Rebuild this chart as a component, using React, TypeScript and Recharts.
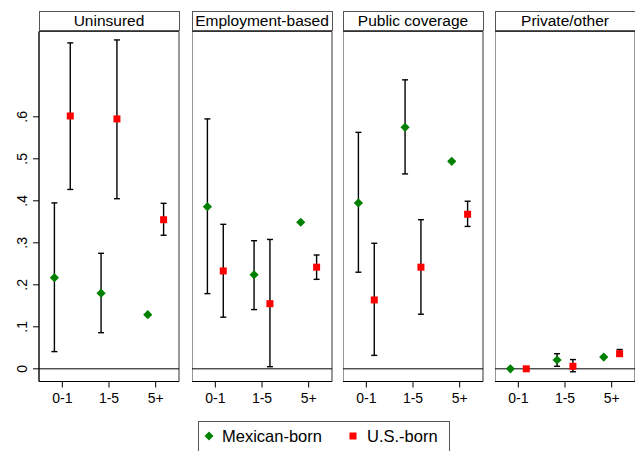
import {
  ComposedChart,
  Scatter,
  ErrorBar,
  XAxis,
  YAxis,
  ReferenceLine,
  ReferenceArea,
} from "recharts";

const ageGroups = ["0-1", "1-5", "5+"];
const panelTitles = ["Uninsured", "Employment-based", "Public coverage", "Private/other"];
const yTicks = [0, 0.1, 0.2, 0.3, 0.4, 0.5, 0.6];

// one row per panel, one value per age group
const mexicanEst = [
  [0.217, 0.18, 0.129],
  [0.386, 0.224, 0.349],
  [0.395, 0.575, 0.494],
  [0.0, 0.021, 0.028],
];
const mexicanLow = [
  [0.041, 0.086, 0.129],
  [0.179, 0.141, 0.349],
  [0.23, 0.464, 0.494],
  [0.0, 0.006, 0.028],
];
const mexicanHigh = [
  [0.395, 0.275, 0.129],
  [0.595, 0.305, 0.349],
  [0.563, 0.688, 0.494],
  [0.0, 0.036, 0.028],
];

const usEst = [
  [0.602, 0.595, 0.355],
  [0.233, 0.155, 0.242],
  [0.164, 0.242, 0.368],
  [0.0, 0.006, 0.036],
];
const usLow = [
  [0.427, 0.405, 0.318],
  [0.123, 0.005, 0.213],
  [0.032, 0.13, 0.339],
  [0.0, -0.007, 0.03],
];
const usHigh = [
  [0.776, 0.783, 0.394],
  [0.344, 0.308, 0.271],
  [0.299, 0.355, 0.399],
  [0.0, 0.022, 0.046],
];

const FONT = '"Liberation Sans", Arial, Helvetica, sans-serif';
const GREEN = "#008000";
const RED = "#ff0000";
const Y_DOMAIN: [number, number] = [-0.0302, 0.8031];
const X_DOMAIN: [number, number] = [0.5, 3.5];
const OFFSET = 0.17;

const plotLefts = [38, 191, 342, 494];
const PLOT_W = 140;
const PLOT_TOP = 31.5;
const PLOT_H = 350;
const XAXIS_H = 38;
const YAXIS_W = 38;

function buildSeries(est: number[], low: number[], high: number[], shift: number) {
  return est.map((v, i) => ({
    pos: i + 1 + shift,
    val: v,
    ci: [v - low[i], high[i] - v],
  }));
}

const Diamond = (p: any) => (
  <polygon
    points={`${p.cx},${p.cy - 4.6} ${p.cx + 4.6},${p.cy} ${p.cx},${p.cy + 4.6} ${p.cx - 4.6},${p.cy}`}
    fill={GREEN}
  />
);

const Square = (p: any) => (
  <rect x={p.cx - 3.5} y={p.cy - 3.5} width={7} height={7} fill={RED} />
);

function fmtY(v: number) {
  return v === 0 ? "0" : "." + Math.round(v * 10);
}

const YTick = (props: any) => {
  const { x, y, payload } = props;
  const bx = x - 4;
  return (
    <text
      x={bx}
      y={y}
      transform={`rotate(-90, ${bx}, ${y})`}
      textAnchor="middle"
      fontSize={14}
      fontFamily={FONT}
      fill="#000"
    >
      {fmtY(payload.value)}
    </text>
  );
};

function Panel({ idx }: { idx: number }) {
  const withAxis = idx === 0;
  const axisW = withAxis ? YAXIS_W : 0;
  const mex = buildSeries(mexicanEst[idx], mexicanLow[idx], mexicanHigh[idx], -OFFSET);
  const us = buildSeries(usEst[idx], usLow[idx], usHigh[idx], OFFSET);

  return (
    <div
      style={{
        position: "absolute",
        left: plotLefts[idx] - axisW + 0.5,
        top: 0,
      }}
    >
      <ComposedChart
        width={axisW + PLOT_W + 2}
        height={PLOT_TOP + PLOT_H + XAXIS_H}
        margin={{ top: PLOT_TOP, right: 2, bottom: 0, left: 0 }}
      >
        <XAxis
          dataKey="pos"
          type="number"
          domain={X_DOMAIN}
          ticks={[1, 2, 3]}
          tickFormatter={(v: number) => ageGroups[v - 1]}
          allowDataOverflow
          height={XAXIS_H}
          tickSize={6}
          tickMargin={6}
          stroke="#000"
          tick={{ fontSize: 14, fontFamily: FONT, fill: "#000" }}
        />
        <YAxis
          dataKey="val"
          type="number"
          domain={Y_DOMAIN}
          ticks={yTicks}
          allowDataOverflow
          hide={!withAxis}
          width={YAXIS_W}
          tickSize={6}
          tickMargin={2}
          stroke="#000"
          tick={<YTick />}
        />
        <ReferenceArea
          x1={X_DOMAIN[0]}
          x2={X_DOMAIN[1]}
          y1={Y_DOMAIN[0]}
          y2={Y_DOMAIN[1]}
          fill="none"
          stroke="#333"
          strokeWidth={1}
        />
        <ReferenceLine y={0} stroke="#000" strokeWidth={1} />
        <Scatter data={mex} dataKey="val" shape={<Diamond />} isAnimationActive={false}>
          <ErrorBar dataKey="ci" direction="y" width={3} stroke="#000" strokeWidth={1.4} />
        </Scatter>
        <Scatter data={us} dataKey="val" shape={<Square />} isAnimationActive={false}>
          <ErrorBar dataKey="ci" direction="y" width={3} stroke="#000" strokeWidth={1.4} />
        </Scatter>
      </ComposedChart>
      <div
        style={{
          position: "absolute",
          left: axisW,
          top: 11,
          width: PLOT_W + 1,
          height: 20,
          boxSizing: "border-box",
          border: "1px solid #555",
          background: "#fff",
          textAlign: "center",
          fontFamily: FONT,
          fontSize: 15.5,
          lineHeight: "15px",
          paddingTop: 1,
          whiteSpace: "nowrap",
          overflow: "hidden",
        }}
      >
        {panelTitles[idx]}
      </div>
    </div>
  );
}

export default function App() {
  return (
    <div
      style={{
        position: "absolute",
        left: 0,
        top: 0,
        width: 635,
        height: 451,
        overflow: "hidden",
        background: "#fff",
      }}
    >
      {panelTitles.map((_, i) => (
        <Panel key={i} idx={i} />
      ))}
      <div
        style={{
          position: "absolute",
          left: 198,
          top: 421,
          width: 252,
          height: 34,
          boxSizing: "border-box",
          border: "1px solid #555",
          fontFamily: FONT,
          fontSize: 16.5,
        }}
      >
        <svg width={12} height={12} style={{ position: "absolute", left: 4, top: 8 }}>
          <polygon points="6,1.5 10.5,6 6,10.5 1.5,6" fill={GREEN} />
        </svg>
        <span style={{ position: "absolute", left: 23, top: 4, lineHeight: "20px" }}>
          Mexican-born
        </span>
        <svg width={12} height={12} style={{ position: "absolute", left: 148, top: 8 }}>
          <rect x={2.5} y={2.5} width={7} height={7} fill={RED} />
        </svg>
        <span style={{ position: "absolute", left: 168, top: 4, lineHeight: "20px" }}>
          U.S.-born
        </span>
      </div>
    </div>
  );
}
